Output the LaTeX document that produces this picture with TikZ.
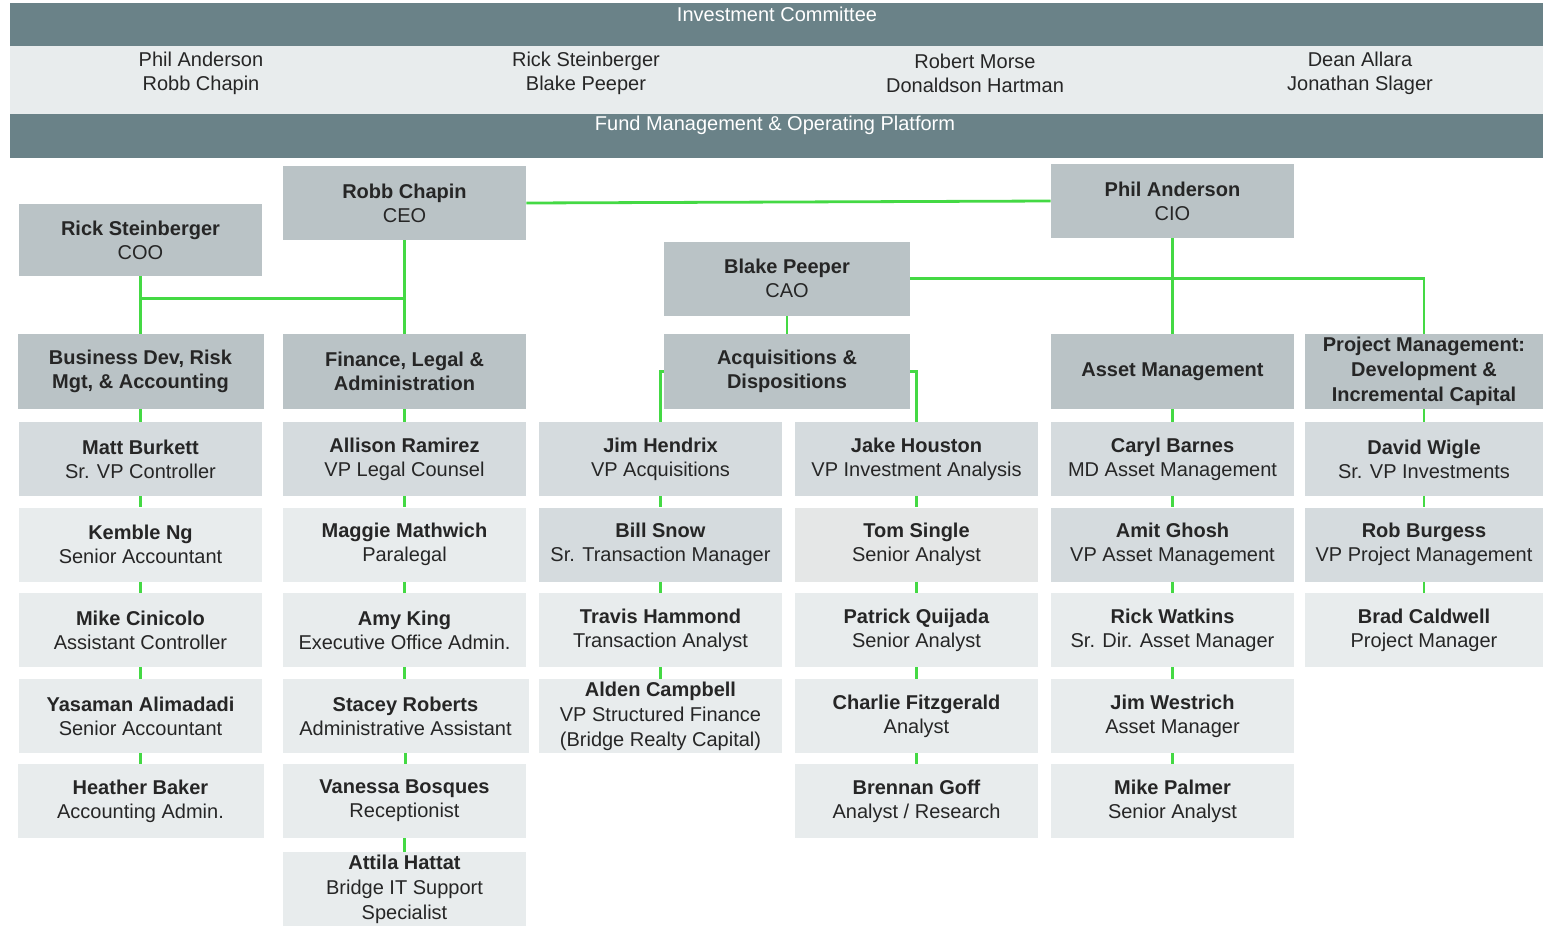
\documentclass[tikz,border=0pt]{standalone}
\usepackage{fontspec}
\setmainfont{Liberation Sans}
\usetikzlibrary{calc}

\definecolor{barslate}{HTML}{6A8288}
\definecolor{bandgray}{HTML}{E8ECED}
\definecolor{headgray}{HTML}{BAC3C6}
\definecolor{midgray}{HTML}{D5DBDE}
\definecolor{palegray}{HTML}{E8ECED}
\definecolor{tomgray}{HTML}{E5E7E7}
\definecolor{linkgreen}{HTML}{44D944}
\definecolor{inkgray}{HTML}{262626}

\begin{document}
\begin{tikzpicture}[x=0.5pt, y=-0.5pt,
  every node/.style={font=\fontsize{10}{12}\selectfont, text=inkgray, align=center, inner sep=0pt},
  box/.style={minimum width=121.5pt, minimum height=37pt},
  head/.style={box, fill=headgray},
  mid/.style={box, fill=midgray},
  pale/.style={box, fill=palegray},
  link/.style={draw=linkgreen, line width=1.4pt}]

\useasboundingbox (0,0) rectangle (1543,926);

% committee band
\fill[barslate] (10,3) rectangle (1543,46);
\fill[bandgray] (10,46) rectangle (1543,113.5);
\fill[barslate] (10,113.5) rectangle (1543,158);
\node[text=white] (ictitle) at (777,14) {Investment Committee};
\node[text=white] (fmtitle) at (775,125) {Fund Management \& Operating Platform};
\node (ic1) at (201,73) {Phil Anderson\\Robb Chapin};
\node (ic2) at (586,73) {Rick Steinberger\\Blake Peeper};
\node (ic3) at (975,73) {Robert Morse\\Donaldson Hartman};
\node (ic4) at (1360,73) {Dean Allara\\Jonathan Slager};

% officers
\node[head, minimum height=36pt] (rick) at (140.5,240) {\textbf{Rick Steinberger}\\COO};
\node[head] (robb) at (404.5,203) {\textbf{Robb Chapin}\\CEO};
\node[head] (phil) at (1172.5,201) {\textbf{Phil Anderson}\\CIO};
\node[head, minimum width=123pt] (blake) at (787,278.5) {\textbf{Blake Peeper}\\CAO};

% departments
\node[head, minimum width=123pt, minimum height=37.5pt] (bizdev) at (140.5,371.5) {\textbf{Business Dev, Risk}\\\textbf{Mgt, \& Accounting}};
\node[head, minimum height=37.5pt] (fin) at (404.5,371.5) {\textbf{Finance, Legal \&}\\\textbf{Administration}};
\node[head, minimum width=123pt, minimum height=37.5pt] (acq) at (787,371.5) {\textbf{Acquisitions \&}\\\textbf{Dispositions}};
\node[head, minimum height=37.5pt] (asset) at (1172.5,371.5) {\textbf{Asset Management}};
\node[head, minimum width=119pt, minimum height=37.5pt, font=\fontsize{10}{12.5}\selectfont] (pm) at (1424,371.5) {\textbf{Project Management:}\\\textbf{Development \&}\\\textbf{Incremental Capital}};

% business dev column
\node[mid] (matt) at (140.5,459) {\textbf{Matt Burkett}\\Sr. VP Controller};
\node[pale] (kemble) at (140.5,544.5) {\textbf{Kemble Ng}\\Senior Accountant};
\node[pale] (mike) at (140.5,630) {\textbf{Mike Cinicolo}\\Assistant Controller};
\node[pale] (yasaman) at (140.5,716) {\textbf{Yasaman Alimadadi}\\Senior Accountant};
\node[pale, minimum width=123pt] (heather) at (140.5,801) {\textbf{Heather Baker}\\Accounting Admin.};

% finance column
\node[mid] (allison) at (404.5,459) {\textbf{Allison Ramirez}\\VP Legal Counsel};
\node[pale] (maggie) at (404.5,544.5) {\textbf{Maggie Mathwich}\\Paralegal};
\node[pale] (amy) at (404.5,630) {\textbf{Amy King}\\Executive Office Admin.};
\node[pale, minimum width=123pt] (stacey) at (405.5,716) {\textbf{Stacey Roberts}\\Administrative Assistant};
\node[pale] (vanessa) at (404.5,801) {\textbf{Vanessa Bosques}\\Receptionist};
\node[pale, minimum height=37.5pt, font=\fontsize{10}{12.5}\selectfont] (attila) at (404.5,889.5) {\textbf{Attila Hattat}\\Bridge IT Support\\Specialist};

% acquisitions columns
\node[mid] (jim) at (660.5,459) {\textbf{Jim Hendrix}\\VP Acquisitions};
\node[mid] (bill) at (660.5,544.5) {\textbf{Bill Snow}\\Sr. Transaction Manager};
\node[pale] (travis) at (660.5,630) {\textbf{Travis Hammond}\\Transaction Analyst};
\node[pale, font=\fontsize{10}{12.5}\selectfont] (alden) at (660.5,716) {\textbf{Alden Campbell}\\VP Structured Finance\\(Bridge Realty Capital)};
\node[mid] (jake) at (916.5,459) {\textbf{Jake Houston}\\VP Investment Analysis};
\node[box, fill=tomgray] (tom) at (916.5,544.5) {\textbf{Tom Single}\\Senior Analyst};
\node[pale] (patrick) at (916.5,630) {\textbf{Patrick Quijada}\\Senior Analyst};
\node[pale] (charlie) at (916.5,716) {\textbf{Charlie Fitzgerald}\\Analyst};
\node[pale] (brennan) at (916.5,801) {\textbf{Brennan Goff}\\Analyst / Research};

% asset management column
\node[mid] (caryl) at (1172.5,459) {\textbf{Caryl Barnes}\\MD Asset Management};
\node[mid] (amit) at (1172.5,544.5) {\textbf{Amit Ghosh}\\VP Asset Management};
\node[pale] (rickw) at (1172.5,630) {\textbf{Rick Watkins}\\Sr. Dir. Asset Manager};
\node[pale] (jimw) at (1172.5,716) {\textbf{Jim Westrich}\\Asset Manager};
\node[pale] (mikep) at (1172.5,801) {\textbf{Mike Palmer}\\Senior Analyst};

% project management column
\node[mid, minimum width=119pt] (david) at (1424,459) {\textbf{David Wigle}\\Sr. VP Investments};
\node[mid, minimum width=119pt] (rob) at (1424,544.5) {\textbf{Rob Burgess}\\VP Project Management};
\node[pale, minimum width=119pt] (brad) at (1424,630) {\textbf{Brad Caldwell}\\Project Manager};

% reporting lines
\draw[link] (rick.south) -- (bizdev.north);
\draw[link] (robb.south) -- (fin.north);
\path (rick.south) ++(0,22) coordinate (coojoin);
\draw[link] (coojoin) -- (coojoin -| robb.south);
\draw[link] (robb.east) -- (phil.west);
\draw[link] (phil.south) -- (asset.north);
\draw[link] (blake.south) -- (acq.north);
\draw[link] (blake.east) -| (pm.north);
\draw[link] (acq.west) -| (jim.north);
\draw[link] (acq.east) -| (jake.north);

\foreach \a/\b in {bizdev/matt, matt/kemble, kemble/mike, mike/yasaman, yasaman/heather,
  fin/allison, allison/maggie, maggie/amy, amy/stacey, stacey/vanessa, vanessa/attila,
  jim/bill, bill/travis, travis/alden,
  jake/tom, tom/patrick, patrick/charlie, charlie/brennan,
  asset/caryl, caryl/amit, amit/rickw, rickw/jimw, jimw/mikep,
  pm/david, david/rob, rob/brad} {
 \draw[link] (\a.south) -- (\a.south |- \b.north);
};

\end{tikzpicture}
\end{document}
